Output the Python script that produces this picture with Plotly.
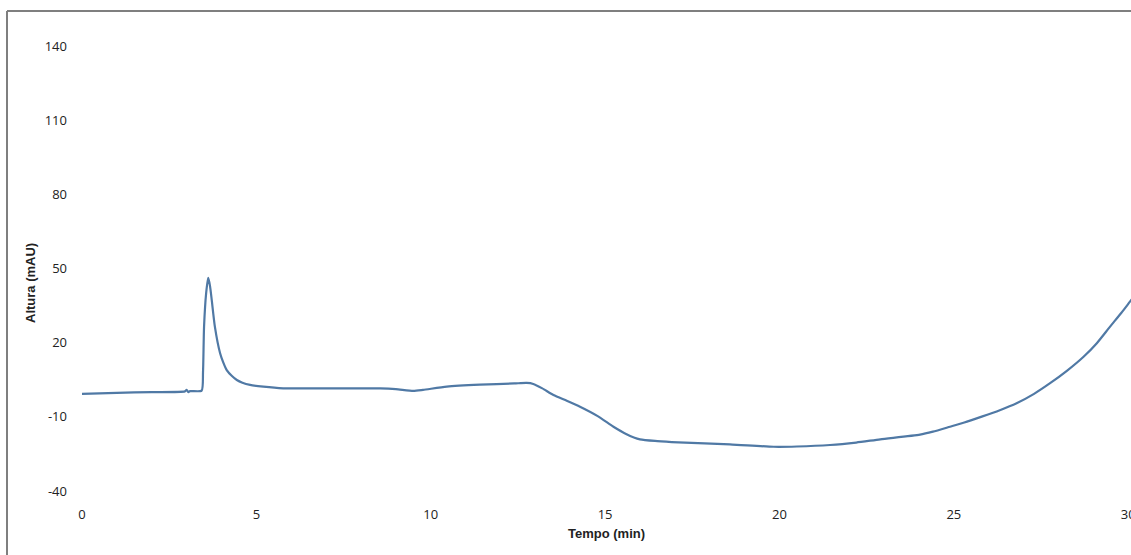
import plotly.graph_objects as go

tempo = [0, 1, 2, 2.95, 3.0, 3.05, 3.1, 3.43, 3.47, 3.50, 3.56, 3.62, 3.67, 3.72, 3.81, 3.96,
         4.05, 4.15, 4.3, 4.44, 4.6, 4.82, 5.2, 5.77, 7.1, 8.55, 9.0, 9.5, 9.78, 10.46,
         11.41, 12.4, 12.75, 12.94, 13.2, 13.52, 13.9, 14.28, 14.8, 15.24, 15.6, 16.0,
         16.5, 17.1, 18.58, 19.83, 20.5, 21.45, 22.2, 22.89, 24.03, 24.4, 24.89, 25.3,
         25.8, 26.3, 26.8, 27.3, 27.76, 28.25, 28.72, 29.1, 29.48, 29.8, 30.05, 30.15]
altura = [-0.7, -0.3, 0.0, 0.3, 0.9, 0.0, 0.4, 0.6, 8.0, 26.5, 40.0, 46.2, 43.0, 37.3, 26.5, 15.7,
          12.0, 8.9, 6.5, 4.9, 3.8, 2.9, 2.2, 1.55, 1.5, 1.5, 1.2, 0.5, 0.9, 2.2,
          3.0, 3.5, 3.7, 3.3, 1.5, -1.2, -3.5, -5.9, -9.8, -14.0, -16.9, -19.1,
          -19.8, -20.3, -21.1, -22.1, -22.0, -21.4, -20.4, -19.1, -17.2, -16.0, -14.0, -12.3,
          -9.9, -7.4, -4.5, -0.7, 3.6, 8.7, 14.3, 19.8, 26.5, 32.0, 36.6, 38.4]

x_ticks = [0, 5, 10, 15, 20, 25, 30]
y_ticks = [-40, -10, 20, 50, 80, 110, 140]

fig = go.Figure()
fig.add_trace(go.Scatter(
    x=tempo, y=altura, mode="lines",
    line=dict(color="#5079a5", width=2.2, shape="spline", smoothing=0.6),
    showlegend=False, hoverinfo="skip"))

# plot area: x 82..1131 px, y 46..491 px
L, R, T, B = 82, 0, 46, 64
W, H = 1131 - L - R, 555 - T - B

def px_x(p):
    return (p - L) / W

def px_y(p):
    return (555 - B - p) / H

fig.update_layout(
    width=1131, height=555,
    margin=dict(l=L, r=R, t=T, b=B, autoexpand=False),
    paper_bgcolor="white", plot_bgcolor="white",
    font=dict(family="Open Sans, Liberation Sans, Arial", size=13, color="#222"),
    xaxis=dict(range=[0, 30.08], tickvals=x_ticks, ticktext=[str(v) for v in x_ticks],
               showgrid=False, zeroline=False, showline=False, ticks="",
               automargin=False,
               ticklabelstandoff=14, ticklabeloverflow="allow", tickfont=dict(size=13),
               title=dict(text="<b>Tempo (min)</b>", standoff=6,
                          font=dict(family="Liberation Sans, Arial", size=13))),
    yaxis=dict(range=[-40, 140], tickvals=y_ticks, ticktext=[str(v) for v in y_ticks],
               showgrid=False, zeroline=False, showline=False, ticks="",
               automargin=False,
               ticklabelstandoff=14, tickfont=dict(size=13)),
    shapes=[
        dict(type="line", xref="paper", yref="paper", x0=px_x(7), x1=px_x(7),
             y0=px_y(560), y1=px_y(11), line=dict(color="#7f7f7f", width=2)),
        dict(type="line", xref="paper", yref="paper", x0=px_x(7), x1=px_x(1140),
             y0=px_y(11), y1=px_y(11), line=dict(color="#7f7f7f", width=2)),
    ],
    annotations=[
        dict(text="<b>Altura (mAU)</b>", xref="paper", yref="paper",
             x=px_x(30), y=px_y(283), textangle=-90, showarrow=False,
             xanchor="center", yanchor="middle",
             font=dict(family="Liberation Sans, Arial", size=13, color="#222")),
    ],
)

fig.write_html("out.html")
